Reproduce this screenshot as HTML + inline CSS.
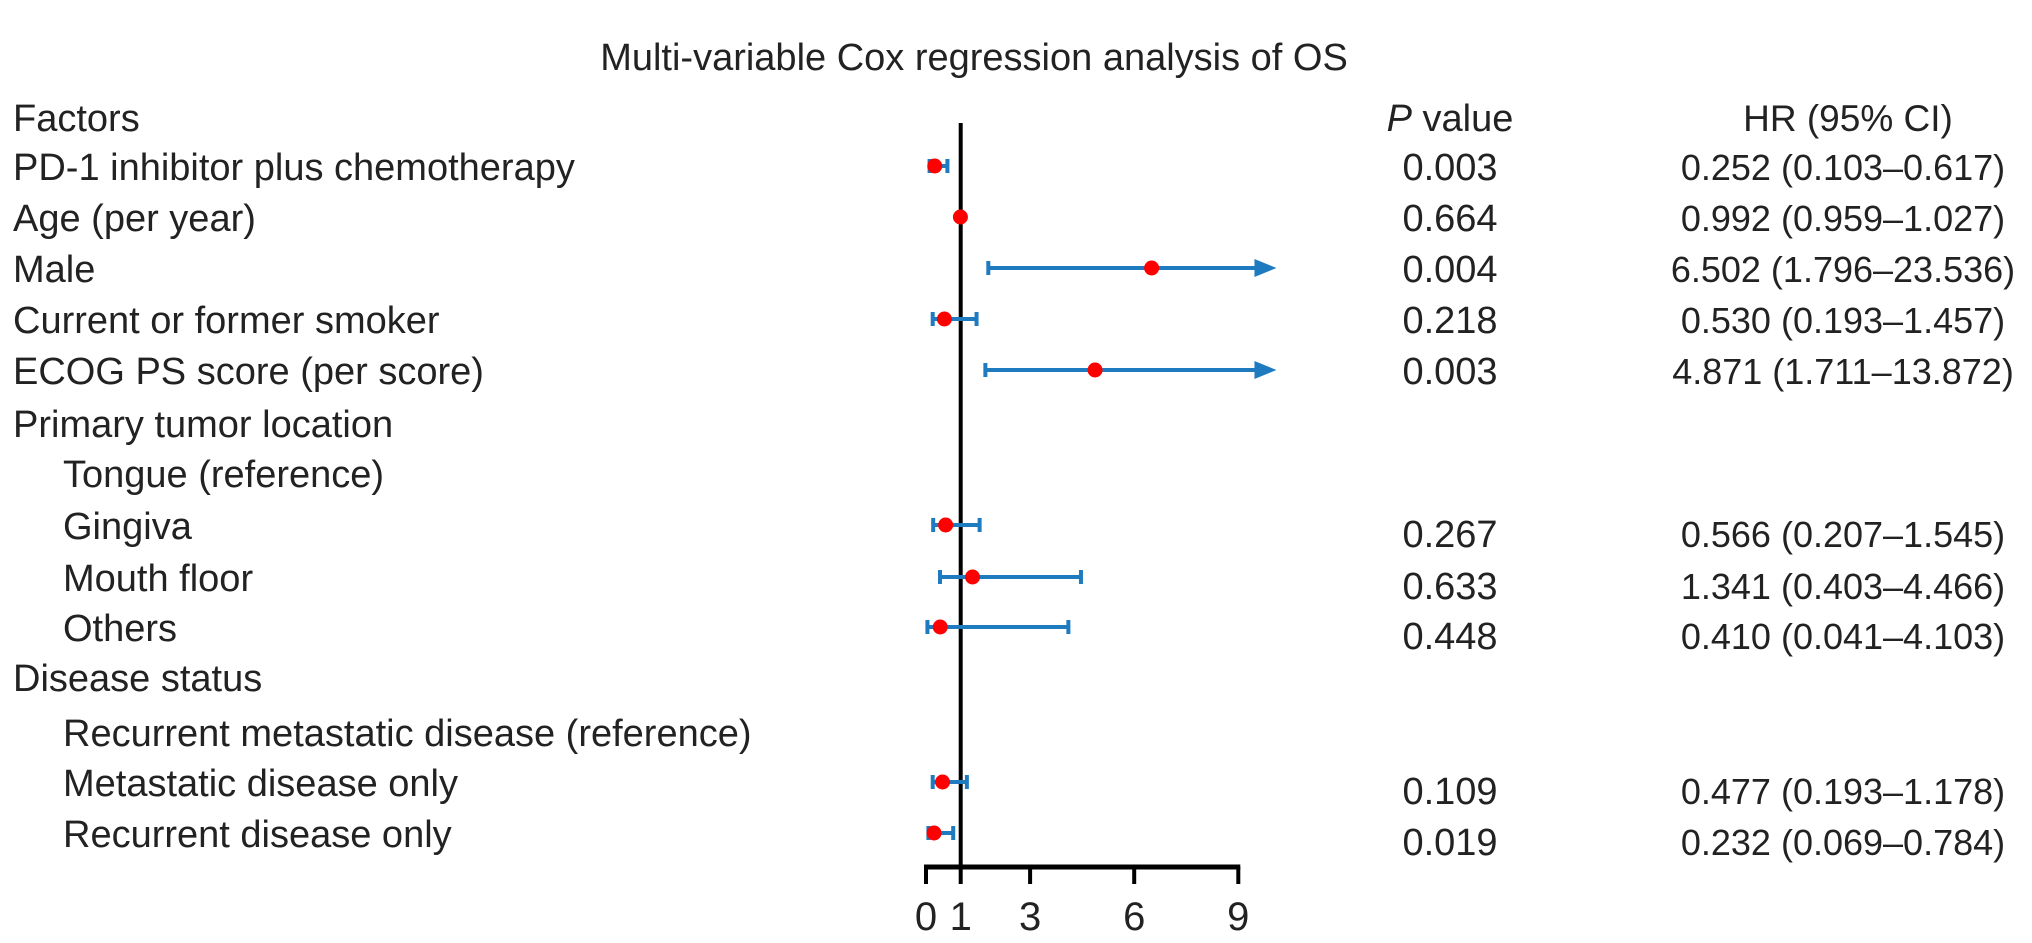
<!DOCTYPE html>
<html><head><meta charset="utf-8"><style>
html,body{margin:0;padding:0;background:#fff;overflow:hidden;}
svg{display:block;font-family:"Liberation Sans",Arial,sans-serif;}
</style></head><body>
<svg id="chart" width="2032" height="943" viewBox="0 0 2032 943">
<text x="974" y="70" font-size="38" text-anchor="middle" fill="#222">Multi-variable Cox regression analysis of OS</text>
<g id="labels"></g>
<g id="marks"></g>
</svg>
<script>
const labels = ["Factors","PD-1 inhibitor plus chemotherapy","Age (per year)","Male","Current or former smoker","ECOG PS score (per score)","Primary tumor location","Tongue (reference)","Gingiva","Mouth floor","Others","Disease status","Recurrent metastatic disease (reference)","Metastatic disease only","Recurrent disease only"];
const indent = [0,0,0,0,0,0,0,1,1,1,1,0,1,1,1];
const hr = [null,0.252,0.992,6.502,0.530,4.871,null,null,0.566,1.341,0.410,null,null,0.477,0.232];
const lo = [null,0.103,0.959,1.796,0.193,1.711,null,null,0.207,0.403,0.041,null,null,0.193,0.069];
const hi = [null,0.617,1.027,23.536,1.457,13.872,null,null,1.545,4.466,4.103,null,null,1.178,0.784];
const pvals = ["","0.003","0.664","0.004","0.218","0.003","","","0.267","0.633","0.448","","","0.109","0.019"];
const hrText = ["","0.252 (0.103–0.617)","0.992 (0.959–1.027)","6.502 (1.796–23.536)","0.530 (0.193–1.457)","4.871 (1.711–13.872)","","","0.566 (0.207–1.545)","1.341 (0.403–4.466)","0.410 (0.041–4.103)","","","0.477 (0.193–1.178)","0.232 (0.069–0.784)"];
const ticks = [0,1,3,6,9];
const xMax = 10.1;

const NS="http://www.w3.org/2000/svg";
const rowY=[117,166,217,268,319,370,423,473,525,577,627,677,732,782,833];
const FS=38;
const x = v => 926 + 34.7*v;
const L=document.getElementById('labels'), M=document.getElementById('marks');
function mk(tag,attrs,parent){const e=document.createElementNS(NS,tag);for(const k in attrs)e.setAttribute(k,attrs[k]);parent.appendChild(e);return e;}
const shifted=[8,9,10,13,14];
labels.forEach((t,i)=>{
  const e=mk('text',{x:indent[i]?63:13,y:rowY[i]+14,'font-size':FS,fill:'#222'},L);
  e.textContent=t;
  
  
  const dy = shifted.includes(i)?8:0;
  if(pvals[i]){const p=mk('text',{x:1450,y:rowY[i]+14+dy,'font-size':FS,'text-anchor':'middle',fill:'#222'},L);p.textContent=pvals[i];
    
    }
  if(hrText[i]){const h=mk('text',{x:1843,y:rowY[i]+14+dy,'font-size':36,'text-anchor':'middle',fill:'#222'},L);h.textContent=hrText[i];
    
    }
});
const ph=mk('text',{x:1450,y:rowY[0]+14,'font-size':FS,'text-anchor':'middle',fill:'#222'},L);
ph.innerHTML='<tspan font-style="italic">P</tspan> value';


const hh=mk('text',{x:1848,y:rowY[0]+14,'font-size':37,'text-anchor':'middle',fill:'#222'},L);
hh.textContent='HR (95% CI)';



const ref=mk('line',{x1:x(1),x2:x(1),y1:123,y2:867,stroke:'#000','stroke-width':4},M);


const ax=mk('line',{x1:x(0)-2,x2:x(9)+2,y1:867,y2:867,stroke:'#000','stroke-width':5},M);


ticks.forEach(t=>{
  const tl=mk('line',{x1:x(t),x2:x(t),y1:867,y2:884,stroke:'#000','stroke-width':4},M);
  
  
  const tt=mk('text',{x:x(t),y:930,'font-size':40,'text-anchor':'middle',fill:'#222'},M);tt.textContent=t;
  
  
});
hr.forEach((v,i)=>{
  if(v===null)return;
  const y=rowY[i], blue='#1f7bbf';
  const g=mk('g',{},M);
  
  
  const over=hi[i]>xMax;
  const xe=over?x(xMax)-20:x(hi[i]);
  const ln=mk('line',{x1:x(lo[i]),x2:xe,y1:y,y2:y,stroke:blue,'stroke-width':4},g);
  
  
  const c1=mk('line',{x1:x(lo[i]),x2:x(lo[i]),y1:y-7,y2:y+7,stroke:blue,'stroke-width':4},g);
  
  
  if(over){
    const a=mk('polygon',{points:`${x(xMax)},${y} ${x(xMax)-22},${y-9} ${x(xMax)-22},${y+9}`,fill:blue},g);
    
    
  } else {
    const c2=mk('line',{x1:x(hi[i]),x2:x(hi[i]),y1:y-7,y2:y+7,stroke:blue,'stroke-width':4},g);
    
    
  }
  const pt=mk('circle',{cx:x(v),cy:y,r:7.5,fill:'#ff0000'},g);
  
  
});
</script>
</body></html>
